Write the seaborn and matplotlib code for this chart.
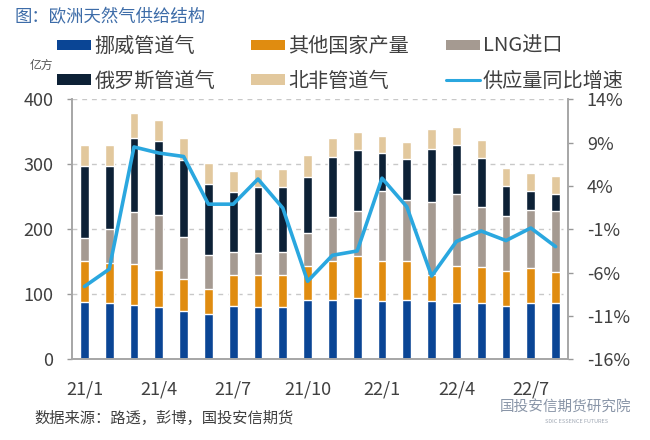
import numpy as np
import seaborn as sns
import matplotlib.pyplot as plt
from matplotlib.patches import Patch
from matplotlib.lines import Line2D

months = ['21/1', '21/2', '21/3', '21/4', '21/5', '21/6', '21/7', '21/8', '21/9', '21/10',
          '21/11', '21/12', '22/1', '22/2', '22/3', '22/4', '22/5', '22/6', '22/7', '22/8']
tick_labels = ['21/1', '21/4', '21/7', '21/10', '22/1', '22/4', '22/7']

# 亿方
norway = [88, 86, 84, 80, 75, 69, 82, 80, 80, 91, 91, 94, 89, 91, 89, 87, 86, 82, 87, 86]
other = [63, 62, 63, 57, 48, 39, 47, 50, 49, 52, 60, 65, 62, 60, 41, 56, 56, 54, 54, 49]
lng = [35, 52, 80, 85, 65, 52, 36, 34, 36, 51, 68, 69, 108, 94, 112, 111, 93, 85, 89, 93]
russia = [111, 97, 114, 114, 119, 110, 92, 101, 100, 87, 92, 94, 59, 63, 82, 75, 74, 46, 29, 26]
north_africa = [32, 33, 38, 32, 34, 32, 32, 27, 27, 33, 29, 27, 26, 27, 30, 28, 28, 28, 27, 28]
# 供应量同比增速 (%)
growth = [-7.6, -5.6, 8.5, 7.8, 7.4, 1.9, 1.9, 4.8, 1.45, -7.0,
          -4.0, -3.5, 4.9, 1.6, -6.4, -2.4, -1.2, -2.3, -0.85, -3.0]

names = ['挪威管道气', '其他国家产量', 'LNG进口', '俄罗斯管道气', '北非管道气']
colors = ['#0A4595', '#E08C10', '#A59A91', '#0D2136', '#E2C89D']
line_color = '#2AA7DF'
text_color = '#404040'

sns.set_style('white')
plt.rcParams['font.family'] = ['Noto Sans CJK SC', 'DejaVu Sans']

fig = plt.figure(figsize=(6.5, 4.4), dpi=100)
ax = fig.add_axes([72 / 650, 1 - 359.3 / 440, 496 / 650, 260 / 440])

# stacked bars: draw cumulative totals from top layer down
layers = [norway, other, lng, russia, north_africa]
cum = np.cumsum(np.array(layers), axis=0)
for i in range(len(layers) - 1, -1, -1):
    sns.barplot(x=months, y=cum[i], order=months, color=colors[i], width=0.36,
                saturation=1, ax=ax, zorder=2)

ax.set_xlim(-0.5, 19.5)
ax.set_ylim(0, 400)
ax.set_yticks([0, 100, 200, 300, 400])
ax.set_xticks(range(0, 20, 3))
ax.set_xticklabels(tick_labels)
ax.set_xticks(np.arange(-0.5, 18, 3), minor=True)
ax.set_xlabel('')
ax.set_ylabel('')
ax.set_axisbelow(True)
ax.yaxis.grid(True, color='#c8c8c8', linestyle=(0, (3.5, 3.5)), linewidth=1)
ax.xaxis.grid(False)

ax.tick_params(axis='x', which='major', length=0, pad=15, labelsize=13, labelcolor=text_color)
ax.tick_params(axis='x', which='minor', length=3.5, width=1, color='#999999', direction='out')
ax.tick_params(axis='y', length=3.5, width=1, color='#999999', pad=10, labelsize=13,
               labelcolor=text_color, direction='out', left=True)

for side in ['left', 'bottom', 'right']:
    ax.spines[side].set_color('#a6a6a6')
    ax.spines[side].set_linewidth(1.2)
ax.spines['top'].set_visible(False)

ax2 = ax.twinx()
sns.lineplot(x=np.arange(len(growth)), y=growth, ax=ax2, color=line_color, linewidth=2.6)
ax2.set_ylim(-16, 14)
ax2.set_yticks([-16, -11, -6, -1, 4, 9, 14])
ax2.set_yticklabels([f'{v}%' for v in [-16, -11, -6, -1, 4, 9, 14]])
ax2.tick_params(axis='y', length=3.5, width=1, color='#999999', pad=10, labelsize=13,
                labelcolor=text_color, direction='out', right=True)
ax2.set_ylabel('')
ax2.grid(False)
for side in ['left', 'bottom', 'right']:
    ax2.spines[side].set_color('#a6a6a6')
    ax2.spines[side].set_linewidth(1.2)
ax2.spines['top'].set_visible(False)

# legend: row 1 = 挪威/其他/LNG, row 2 = 俄罗斯/北非/增速
handles = {n: Patch(facecolor=c, edgecolor='none') for n, c in zip(names, colors)}
handles['供应量同比增速'] = Line2D([], [], color=line_color, linewidth=2.2)
order = ['挪威管道气', '俄罗斯管道气', '其他国家产量', '北非管道气', 'LNG进口', '供应量同比增速']
fig.legend([handles[n] for n in order], order, loc='upper left',
           bbox_to_anchor=(57 / 650, 1 - 36 / 440), ncol=3, frameon=False,
           borderpad=0, borderaxespad=0, fontsize=14.5, handlelength=1.7,
           handleheight=0.42, handletextpad=0.15, columnspacing=1.8,
           labelspacing=0.68, labelcolor=text_color)

fig.text(15 / 650, 1 - 17 / 440, '图：欧洲天然气供给结构', color='#3D6CA8',
         fontsize=12.5, va='center', ha='left')
fig.text(30 / 650, 1 - 65 / 440, '亿方', color='#555555', fontsize=8.5, va='center')
fig.text(34 / 650, 1 - 418 / 440, '数据来源：路透，彭博，国投安信期货', color=text_color,
         fontsize=11, va='center', ha='left')
fig.text(500 / 650, 1 - 407 / 440, '国投安信期货研究院', color='#8a96a8',
         fontsize=10.5, va='center', ha='left')
fig.text(545 / 650, 1 - 421 / 440, 'SDIC ESSENCE FUTURES', color='#a0a8b4',
         fontsize=4, va='center', ha='left')

fig.savefig('out.png', dpi=100, facecolor='white')
